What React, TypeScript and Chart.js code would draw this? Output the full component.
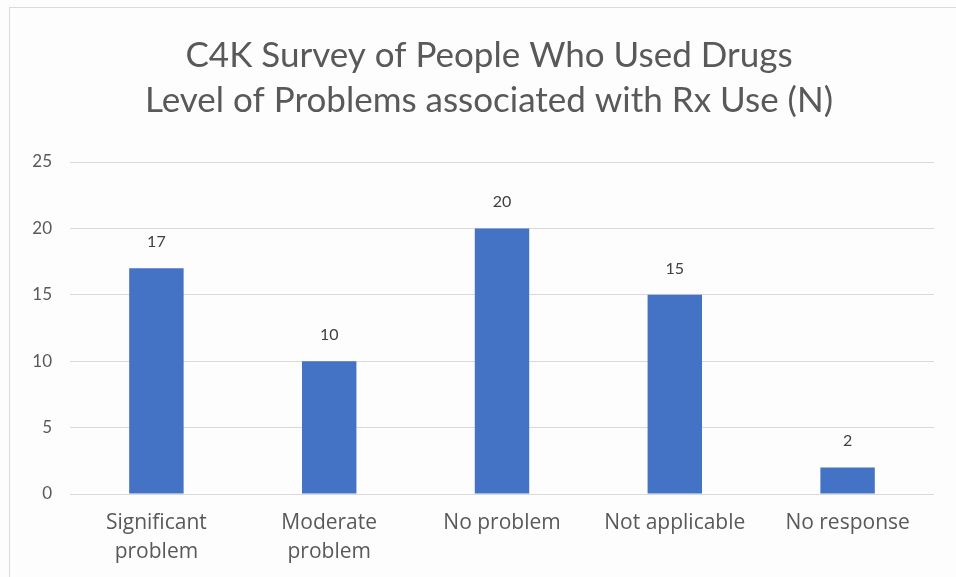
import React, { useEffect, useRef } from "react";
import { Chart, registerables } from "chart.js";

Chart.register(...registerables);

const titleLines = [
  "C4K Survey of People Who Used Drugs",
  "Level of Problems associated with Rx Use (N)",
];
const categories: (string | string[])[] = [
  ["Significant", "problem"],
  ["Moderate", "problem"],
  "No problem",
  "Not applicable",
  "No response",
];
const counts = [17, 10, 20, 15, 2];
const yMin = 0;
const yMax = 25;
const yStep = 5;

const valueLabels = {
  id: "valueLabels",
  afterDatasetsDraw(chart: any) {
    const { ctx } = chart;
    const meta = chart.getDatasetMeta(0);
    ctx.save();
    ctx.font = "16px Lato";
    ctx.fillStyle = "#404040";
    ctx.textAlign = "center";
    ctx.textBaseline = "alphabetic";
    meta.data.forEach((bar: any, i: number) => {
      ctx.fillText(String(counts[i]), bar.x, bar.y - 21);
    });
    ctx.restore();
  },
};

const twoLineTitle = {
  id: "twoLineTitle",
  afterDraw(chart: any) {
    const { ctx } = chart;
    ctx.save();
    ctx.font = "35px Lato";
    ctx.fillStyle = "#595959";
    ctx.textAlign = "center";
    ctx.textBaseline = "middle";
    titleLines.forEach((line, i) => {
      ctx.fillText(line, 489, 56 + i * 45);
    });
    ctx.restore();
  },
};

export default function App() {
  const ref = useRef<HTMLCanvasElement | null>(null);
  useEffect(() => {
    if (!ref.current) return;
    const chart = new Chart(ref.current, {
      type: "bar",
      data: {
        labels: categories,
        datasets: [
          {
            data: counts,
            backgroundColor: "#4472C4",
            barPercentage: 0.315,
            categoryPercentage: 1,
          },
        ],
      },
      options: {
        animation: false,
        responsive: false,
        maintainAspectRatio: false,
        layout: { padding: { left: 0, right: 22, top: 162, bottom: 0 } },
        plugins: {
          legend: { display: false },
          tooltip: { enabled: false },
          title: { display: false },
        },
        scales: {
          x: {
            grid: { display: false, drawTicks: false },
            border: { display: false },
            ticks: {
              color: "#595959",
              font: { family: "'Open Sans'", size: 21, lineHeight: 1.36 },
              padding: 15,
              maxRotation: 0,
              autoSkip: false,
            },
            afterFit: (s: any) => {
              s.height = 83;
            },
          },
          y: {
            min: yMin,
            max: yMax,
            grid: { color: "#d9d9d9", lineWidth: 1, drawTicks: false },
            border: { display: false },
            ticks: {
              stepSize: yStep,
              color: "#595959",
              font: { family: "Lato", size: 17 },
              padding: 18,
            },
            afterFit: (s: any) => {
              s.width = 70;
            },
          },
        },
      },
      plugins: [valueLabels, twoLineTitle],
    });
    return () => chart.destroy();
  }, []);

  return (
    <div
      style={{
        position: "absolute",
        left: 0,
        top: 0,
        width: 956,
        height: 577,
        overflow: "hidden",
        background: "#fdfdfd",
      }}
    >
      <div
        style={{
          position: "absolute",
          left: 9,
          top: 7,
          width: 1000,
          height: 700,
          border: "1px solid #d9d9d9",
          boxSizing: "border-box",
        }}
      />
      <canvas
        ref={ref}
        width={956}
        height={577}
        style={{ position: "absolute", left: 0, top: 0, width: 956, height: 577 }}
      />
    </div>
  );
}
